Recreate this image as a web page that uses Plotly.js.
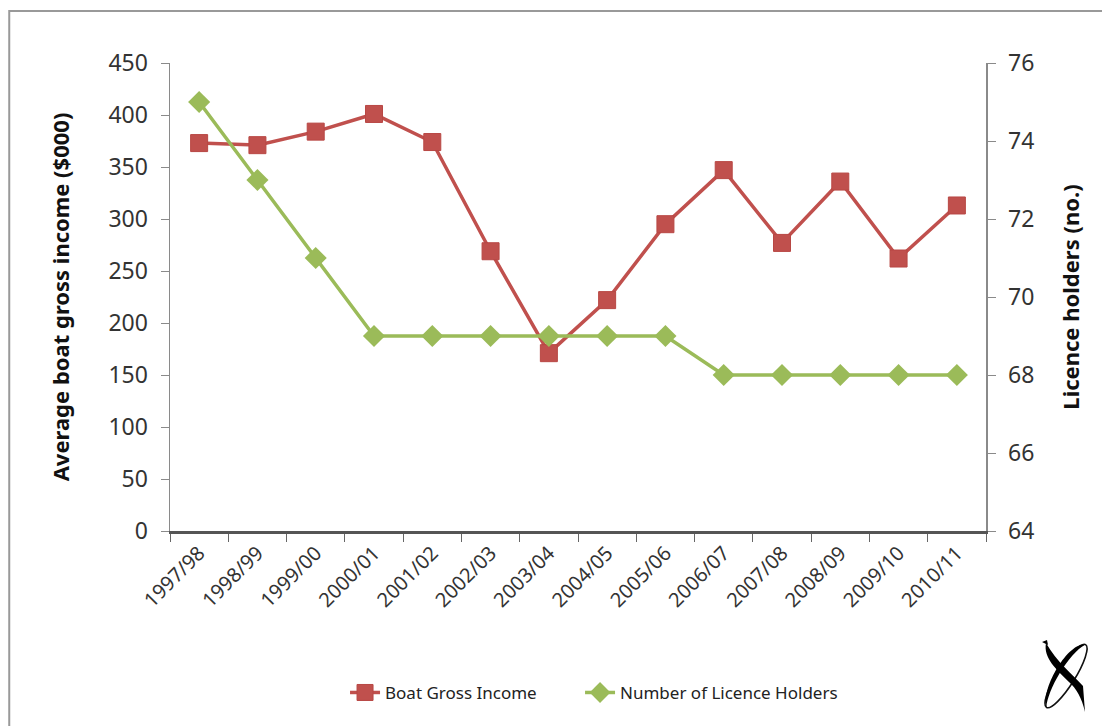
<!DOCTYPE html>
<html>
<head>
<meta charset="utf-8">
<script src="https://cdn.plot.ly/plotly-3.0.1.min.js"></script>
<style>html,body{margin:0;padding:0;background:#fff;}#chart{width:1102px;height:726px;}</style>
</head>
<body>
<div id="chart"></div>
<script>
const years = ["1997/98","1998/99","1999/00","2000/01","2001/02","2002/03","2003/04","2004/05","2005/06","2006/07","2007/08","2008/09","2009/10","2010/11"];
const boatGrossIncome = [373, 371, 384, 401, 374, 269, 171, 222, 295, 347, 277, 336, 262, 313];
const licenceHolders = [75, 73, 71, 69, 69, 69, 69, 69, 69, 68, 68, 68, 68, 68];
const leftTicks = [0, 50, 100, 150, 200, 250, 300, 350, 400, 450];
const rightTicks = [64, 66, 68, 70, 72, 74, 76];

const font = "Noto Sans, Open Sans, sans-serif";

const logoSvg = '<svg xmlns="http://www.w3.org/2000/svg" viewBox="0 0 60 80" width="60" height="80">' +
  '<g transform="rotate(32 30 40)">' +
  '<ellipse cx="30" cy="40" rx="9" ry="37" fill="none" stroke="#111" stroke-width="1.6"/>' +
  '<path d="M 30 3 C 13 10, 16 66, 30 77 C 22 62, 20 20, 30 3 Z" fill="#000"/>' +
  '</g>' +
  '<path d="M 10 7 C 20 25, 38 40, 47 50 L 49 76 C 46 62, 40 52, 33 46 C 21 34, 7 22, 10 7 Z" fill="#000"/>' +
  '<path d="M 6 6 L 11 4 L 12 9 Z" fill="#000"/>' +
  '</svg>';

const traces = [
  {
    x: years, y: boatGrossIncome, name: "Boat Gross Income", type: "scatter", mode: "lines+markers",
    line: {color: "#C0504D", width: 3.5},
    marker: {symbol: "square", size: 17, color: "#C0504D", line: {color: "#B84744", width: 1}},
    yaxis: "y", legend: "legend"
  },
  {
    x: years, y: licenceHolders, name: "Number of Licence Holders", type: "scatter", mode: "lines+markers",
    line: {color: "#9BBB59", width: 3.5},
    marker: {symbol: "diamond", size: 17, color: "#9BBB59"},
    yaxis: "y2", legend: "legend2"
  }
];

const legendFont = {family: font, size: 17, color: "#222"};

const layout = {
  width: 1102, height: 726,
  margin: {l: 170, r: 116, t: 63, b: 195},
  paper_bgcolor: "#fff", plot_bgcolor: "rgba(0,0,0,0)",
  showlegend: true,
  legend: {orientation: "h", x: 0.2145, y: -0.346, xanchor: "left", yanchor: "middle",
           font: legendFont, bgcolor: "rgba(0,0,0,0)"},
  legend2: {orientation: "h", x: 0.5025, y: -0.346, xanchor: "left", yanchor: "middle",
           font: legendFont, bgcolor: "rgba(0,0,0,0)"},
  xaxis: {
    type: "category", range: [-0.5, 13.5], tickangle: -45,
    showline: true, linecolor: "#555", linewidth: 2.5,
    ticks: "outside", tickson: "boundaries", ticklen: 8, tickcolor: "#666",
    showgrid: false, zeroline: false,
    tickfont: {family: font, size: 20, color: "#333"}
  },
  yaxis: {
    range: [0, 450], tickvals: leftTicks, ticktext: leftTicks.map(String),
    showline: true, linecolor: "#8a8a8a", linewidth: 1.5,
    ticks: "outside", ticklen: 8, tickcolor: "#8a8a8a", ticklabelstandoff: 8,
    showgrid: false, zeroline: false,
    tickfont: {family: font, size: 23, color: "#333"},
    title: {text: "<b>Average boat gross income ($000)</b>", font: {family: font, size: 22, color: "#111"}, standoff: 32}
  },
  yaxis2: {
    range: [64, 76], tickvals: rightTicks, overlaying: "y", side: "right",
    showline: true, linecolor: "#8a8a8a", linewidth: 1.5,
    ticks: "outside", ticklen: 8, tickcolor: "#8a8a8a", ticklabelstandoff: 8,
    showgrid: false, zeroline: false,
    tickfont: {family: font, size: 23, color: "#333"},
    title: {text: "<b>Licence holders (no.)</b>", font: {family: font, size: 22, color: "#111"}, standoff: 30}
  },
  shapes: [
    {type: "rect", xref: "paper", yref: "paper", x0: -0.197, x1: 1.3, y0: -0.6, y1: 1.111,
     line: {color: "#999", width: 2}, fillcolor: "rgba(0,0,0,0)", layer: "below"}
  ],
  images: [
    {source: "data:image/svg+xml;charset=utf-8," + encodeURIComponent(logoSvg),
     xref: "paper", yref: "paper", x: (1036 - 170) / 816, y: (531 - 636) / 468,
     sizex: 60 / 816, sizey: 80 / 468, sizing: "stretch", xanchor: "left", yanchor: "top", layer: "above"}
  ]
};

Plotly.newPlot("chart", traces, layout, {displayModeBar: false, staticPlot: true});
</script>
</body>
</html>
